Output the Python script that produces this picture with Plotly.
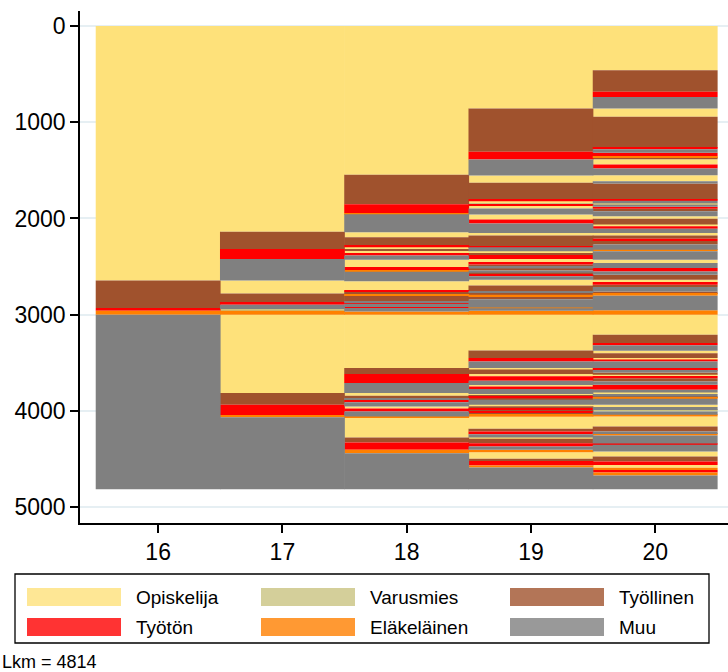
import plotly.graph_objects as go

# ---------------- data ----------------
ages = [16, 17, 18, 19, 20]
state_names = {"O": "Opiskelija", "V": "Varusmies", "Ty": "Työllinen",
               "Tt": "Työtön", "E": "Eläkeläinen", "M": "Muu"}
legend_order = ["O", "V", "Ty", "Tt", "E", "M"]
n_total = 4814

# segment boundaries (sequence index) and states for each age column
age16_bounds = [0, 2646, 2930, 2960, 3000, 4814]
age16_states = ["O", "Ty", "Tt", "E", "M"]

age17_bounds = [0, 2139, 2317, 2421, 2646, 2781, 2878, 2896, 2941, 2958, 3000,
                3815, 3937, 4051, 4065, 4814]
age17_states = ["O", "Ty", "Tt", "M", "O", "Ty", "Tt", "M", "V", "E",
                "O", "Ty", "Tt", "E", "M"]

age18_bounds = [0, 1546, 1852, 1945, 1955, 2143, 2196, 2282, 2300, 2320, 2330,
                2358, 2386, 2428, 2504, 2545, 2555, 2653, 2747, 2760, 2790,
                2800, 2862, 2880, 2888, 2920, 2930, 2966, 3000,
                3555, 3617, 3711, 3815, 3843, 3870, 3885, 3909, 3954, 3975,
                4006, 4058, 4070, 4277, 4329, 4405, 4439, 4814]
age18_states = ["O", "Ty", "Tt", "E", "M", "O", "Ty", "Tt", "O", "Ty",
                "O", "Tt", "M", "O", "Tt", "E", "M", "O", "Tt", "Ty",
                "E", "Ty", "M", "Tt", "M", "Tt", "M", "E",
                "O", "Ty", "Tt", "M", "O", "Ty", "M", "Tt", "M", "O",
                "Tt", "M", "E", "O", "Ty", "Tt", "E", "M"]

age19_bounds = [0, 857, 1307, 1387, 1554, 1630, 1803, 1821, 1840, 1848, 1855,
                1866, 1897, 1959, 2011, 2053, 2150, 2178, 2289, 2300, 2341,
                2360, 2385, 2392, 2410, 2420, 2462, 2478, 2500, 2520, 2540,
                2565, 2584, 2601, 2636, 2698, 2758, 2775, 2792, 2816, 2840,
                2925, 2932, 2958, 3000,
                3371, 3451, 3486, 3555, 3570, 3617, 3640, 3687, 3730, 3746,
                3773, 3825, 3838, 3855, 3868, 3885, 3937, 3952, 3975, 3990,
                4010, 4022, 4041, 4061, 4186, 4214, 4242, 4277, 4290, 4335,
                4370, 4405, 4429, 4498, 4520, 4568, 4589, 4814]
age19_states = ["O", "Ty", "Tt", "M", "O", "Ty", "Tt", "O", "V", "O",
                "Tt", "O", "M", "O", "Tt", "M", "O", "Ty", "Tt", "M",
                "O", "Ty", "Tt", "Ty", "Tt", "O", "Tt", "Ty", "M", "Ty",
                "M", "Ty", "Tt", "M", "O", "Ty", "M", "Ty", "E", "Ty",
                "M", "E", "M", "E",
                "O", "Ty", "Tt", "M", "O", "Ty", "O", "Tt", "M", "O",
                "Tt", "M", "O", "Ty", "Tt", "Ty", "M", "O", "Ty", "Tt",
                "Ty", "Tt", "Ty", "E", "O", "Ty", "Tt", "M", "O", "Ty",
                "Tt", "M", "E", "O", "Ty", "Tt", "E", "M"]

age20_bounds = [0, 461, 683, 739, 856, 943, 1265, 1282, 1317, 1355, 1369,
                1385, 1439, 1481, 1550, 1613, 1637, 1803, 1815, 1845, 1855,
                1879, 1900, 1925, 1977, 2004, 2064, 2080, 2108, 2150, 2178,
                2212, 2235, 2271, 2324, 2340, 2428, 2462, 2514, 2550, 2585,
                2636, 2670, 2690, 2712, 2758, 2785, 2802, 2955, 3000,
                3208, 3295, 3319, 3375, 3400, 3451, 3465, 3486, 3555, 3583,
                3600, 3624, 3640, 3660, 3694, 3728, 3780, 3810, 3830, 3850,
                3862, 3874, 3937, 3960, 3990, 4005, 4041, 4058, 4162, 4214,
                4240, 4255, 4340, 4353, 4422, 4475, 4527, 4561, 4590, 4613,
                4640, 4672, 4814]
age20_states = ["O", "Ty", "Tt", "M", "O", "Ty", "Tt", "M", "Tt", "E",
                "Ty", "O", "Tt", "M", "O", "M", "Ty", "Tt", "M", "O",
                "M", "Tt", "Ty", "M", "O", "Ty", "O", "Tt", "M", "O",
                "Ty", "Tt", "Ty", "M", "E", "M", "O", "M", "Tt", "M",
                "Ty", "O", "Tt", "Ty", "M", "Ty", "E", "M", "E",
                "O", "Ty", "Tt", "M", "O", "Ty", "O", "Tt", "M", "Tt",
                "M", "Ty", "O", "Tt", "Ty", "M", "Tt", "M", "O", "M",
                "Ty", "E", "M", "O", "M", "V", "M", "E", "O", "Ty",
                "M", "E", "M", "Tt", "M", "O", "Ty", "Tt", "O", "E",
                "Tt", "E", "M"]

y_ticks = [0, 1000, 2000, 3000, 4000, 5000]

# ---------------- styling ----------------
bar_colors = {"O": "rgb(254,225,122)", "V": "rgb(201,195,129)",
              "Ty": "rgb(160,82,45)", "Tt": "rgb(255,0,0)",
              "E": "rgb(255,128,0)", "M": "rgb(128,128,128)"}
legend_colors = {"O": "rgb(254,231,149)", "V": "rgb(212,207,154)",
                 "Ty": "rgb(179,117,87)", "Tt": "rgb(255,51,51)",
                 "E": "rgb(255,153,51)", "M": "rgb(153,153,153)"}

columns = [(16, age16_bounds, age16_states), (17, age17_bounds, age17_states),
           (18, age18_bounds, age18_states), (19, age19_bounds, age19_states),
           (20, age20_bounds, age20_states)]

fig = go.Figure()
for st in legend_order:
    xs, bases, lens = [], [], []
    for age, b, s in columns:
        for i, code in enumerate(s):
            if code == st:
                xs.append(age)
                bases.append(b[i])
                lens.append(b[i + 1] - b[i])
    if not xs:
        continue
    fig.add_trace(go.Bar(
        x=xs, y=lens, base=bases, width=1.005, name=state_names[st],
        marker=dict(color=bar_colors[st], line=dict(width=0)),
        showlegend=False, hoverinfo="skip"))

W, H = 728, 672
L, R, T, B = 80, 0, 11, 149
pw, ph = W - L - R, H - T - B


def px(x):
    return (x - L) / pw


def py(y):
    return (H - B - y) / ph


shapes = []
annotations = []
# legend box
shapes.append(dict(type="rect", xref="paper", yref="paper",
                   x0=px(15), x1=px(709), y0=py(643), y1=py(574),
                   line=dict(color="black", width=1.3), fillcolor="white"))
leg_cols = [27, 261, 510]
leg_rows = [597, 627]
for k, st in enumerate(legend_order):
    r, c = divmod(k, 3)
    x0 = leg_cols[c]
    yc = leg_rows[r]
    shapes.append(dict(type="rect", xref="paper", yref="paper",
                       x0=px(x0), x1=px(x0 + 94), y0=py(yc + 9), y1=py(yc - 9),
                       line=dict(width=0), fillcolor=legend_colors[st]))
    annotations.append(dict(text=state_names[st], xref="paper", yref="paper",
                            x=px(x0 + 107), y=py(yc), xanchor="left",
                            yanchor="middle", showarrow=False,
                            font=dict(size=19, color="black")))

annotations.append(dict(text="Lkm = " + str(n_total), xref="paper", yref="paper",
                        x=px(0), y=py(662), xanchor="left", yanchor="middle",
                        showarrow=False, font=dict(size=18, color="black")))

fig.update_layout(
    width=W, height=H, margin=dict(l=L, r=R, t=T, b=B),
    paper_bgcolor="white", plot_bgcolor="white",
    barmode="overlay",
    font=dict(family="Liberation Sans, Arial, sans-serif", color="black"),
    shapes=shapes, annotations=annotations,
    xaxis=dict(range=[15.371, 20.586], tickvals=ages,
               ticktext=[str(a) for a in ages], showgrid=False,
               zeroline=False, showline=True, linecolor="black", linewidth=1.5,
               ticks="outside", ticklen=8, tickwidth=1.5, tickcolor="black",
               tickfont=dict(size=23)),
    yaxis=dict(range=[5165, -156], tickvals=y_ticks,
               ticktext=[str(v) for v in y_ticks], showgrid=True,
               gridcolor="#E6EFF3", gridwidth=2, zeroline=False,
               showline=True, linecolor="black", linewidth=1.5,
               ticks="outside", ticklen=8, tickwidth=1.5, tickcolor="black",
               tickfont=dict(size=23)),
)

fig.write_html("out.html", config={"displayModeBar": False},
               post_script="document.body.style.margin='0';")
